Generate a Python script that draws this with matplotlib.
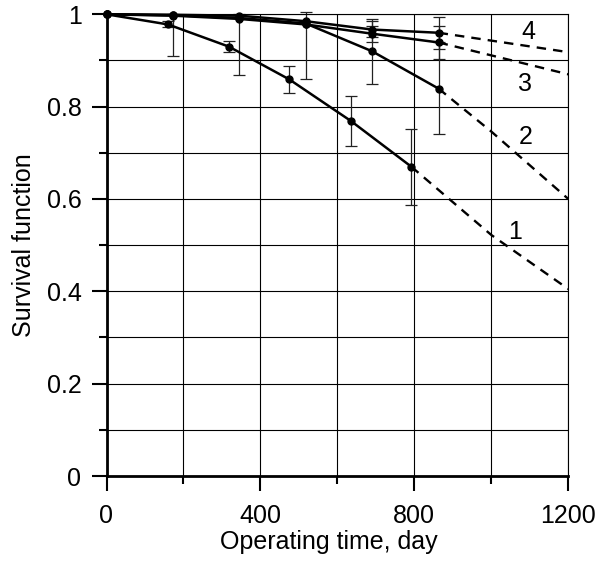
import numpy as np
import matplotlib
matplotlib.use("Agg")
import matplotlib.pyplot as plt
from matplotlib.ticker import MultipleLocator, FuncFormatter

plt.rcParams['font.family'] = ['Liberation Sans', 'DejaVu Sans']

# ---- data ----
x1 = [0, 160, 318, 475, 635, 792]
y1 = [1.0, 0.978, 0.930, 0.859, 0.769, 0.670]
lo1 = [np.nan, 0.972, 0.918, 0.829, 0.714, 0.588]
hi1 = [np.nan, 0.985, 0.942, 0.889, 0.823, 0.752]

x234 = [0, 173, 345, 518, 690, 863]
y2 = [1.0, 0.998, 0.992, 0.980, 0.920, 0.839]
lo2 = [np.nan, 0.909, 0.868, 0.859, 0.849, 0.740]
hi2 = [np.nan, 1.000, 1.000, 1.004, 0.989, 0.940]

y3 = [1.0, 0.997, 0.990, 0.978, 0.958, 0.939]
lo3 = [np.nan, np.nan, np.nan, np.nan, 0.940, 0.904]
hi3 = [np.nan, np.nan, np.nan, np.nan, 0.975, 0.974]

y4 = [1.0, 0.999, 0.997, 0.985, 0.967, 0.960]
lo4 = [np.nan, np.nan, np.nan, np.nan, 0.950, 0.925]
hi4 = [np.nan, np.nan, np.nan, np.nan, 0.985, 0.994]

# forecast (dashed) extensions
fx1 = [792, 1000, 1200]
fy1 = [0.670, 0.522, 0.405]
fx2 = [863, 1000, 1200]
fy2 = [0.839, 0.746, 0.600]
fx3 = [863, 1000, 1200]
fy3 = [0.939, 0.911, 0.870]
fx4 = [863, 1000, 1200]
fy4 = [0.960, 0.943, 0.918]

labels = ['1', '2', '3', '4']
label_x = [1062, 1088, 1088, 1095]
label_y = [0.529, 0.734, 0.850, 0.962]

xticks = [0, 400, 800, 1200]
yticks = [0, 0.2, 0.4, 0.6, 0.8, 1.0]

# ---- figure ----
fig = plt.figure(figsize=(5.99, 5.61), dpi=100)
ax = fig.add_axes([106.5/599, 1-476/561, (568.3-106.5)/599, (476-14.3)/561])
ax.set_xlim(0, 1200)
ax.set_ylim(0, 1)

# grid
ax.xaxis.set_minor_locator(MultipleLocator(200))
ax.yaxis.set_minor_locator(MultipleLocator(0.1))
ax.set_xticks(xticks)
ax.set_yticks(yticks)
ax.grid(which='both', color='black', linewidth=0.8)
ax.set_axisbelow(True)

for s in ['top', 'right']:
    ax.spines[s].set_linewidth(0.8)
for s in ['left', 'bottom']:
    ax.spines[s].set_linewidth(2.0)

ax.tick_params(which='major', direction='out', length=11, width=1.5,
               labelsize=18, pad=7)
ax.tick_params(axis='x', which='major', pad=9)
ax.tick_params(which='minor', direction='out', length=5.5, width=1.5)
ax.tick_params(top=False, right=False, which='both')

def fmt(v, pos):
    return ('%g' % round(v, 2))
ax.yaxis.set_major_formatter(FuncFormatter(fmt))
ax.xaxis.set_major_formatter(FuncFormatter(fmt))

def draw(x, y, lo, hi):
    y = np.array(y); lo = np.array(lo); hi = np.array(hi)
    ax.plot(x, y, color='black', lw=1.8, zorder=3, clip_on=False)
    ax.plot(x, y, 'o', color='black', ms=5, zorder=4, clip_on=False)
    m = ~np.isnan(lo)
    xe = np.array(x)[m]
    ax.errorbar(xe, y[m], yerr=[y[m]-lo[m], hi[m]-y[m]], fmt='none',
                ecolor='#222222', elinewidth=0.9, capsize=4, capthick=0.9,
                zorder=2, clip_on=False)

draw(x1, y1, lo1, hi1)
draw(x234, y2, lo2, hi2)
draw(x234, y3, lo3, hi3)
draw(x234, y4, lo4, hi4)

for fx, fy in [(fx1, fy1), (fx2, fy2), (fx3, fy3), (fx4, fy4)]:
    ax.plot(fx, fy, color='black', lw=1.7, ls=(0, (4, 3)), zorder=3)

for t, lx, ly in zip(labels, label_x, label_y):
    ax.text(lx, ly, t, fontsize=18, ha='center', va='center', zorder=5)

ax.set_xlabel('Operating time, day', fontsize=18)
ax.xaxis.set_label_coords(0.481, -0.118)
ax.set_ylabel('Survival function', fontsize=18, labelpad=8)

fig.savefig('out.png', dpi=100)
